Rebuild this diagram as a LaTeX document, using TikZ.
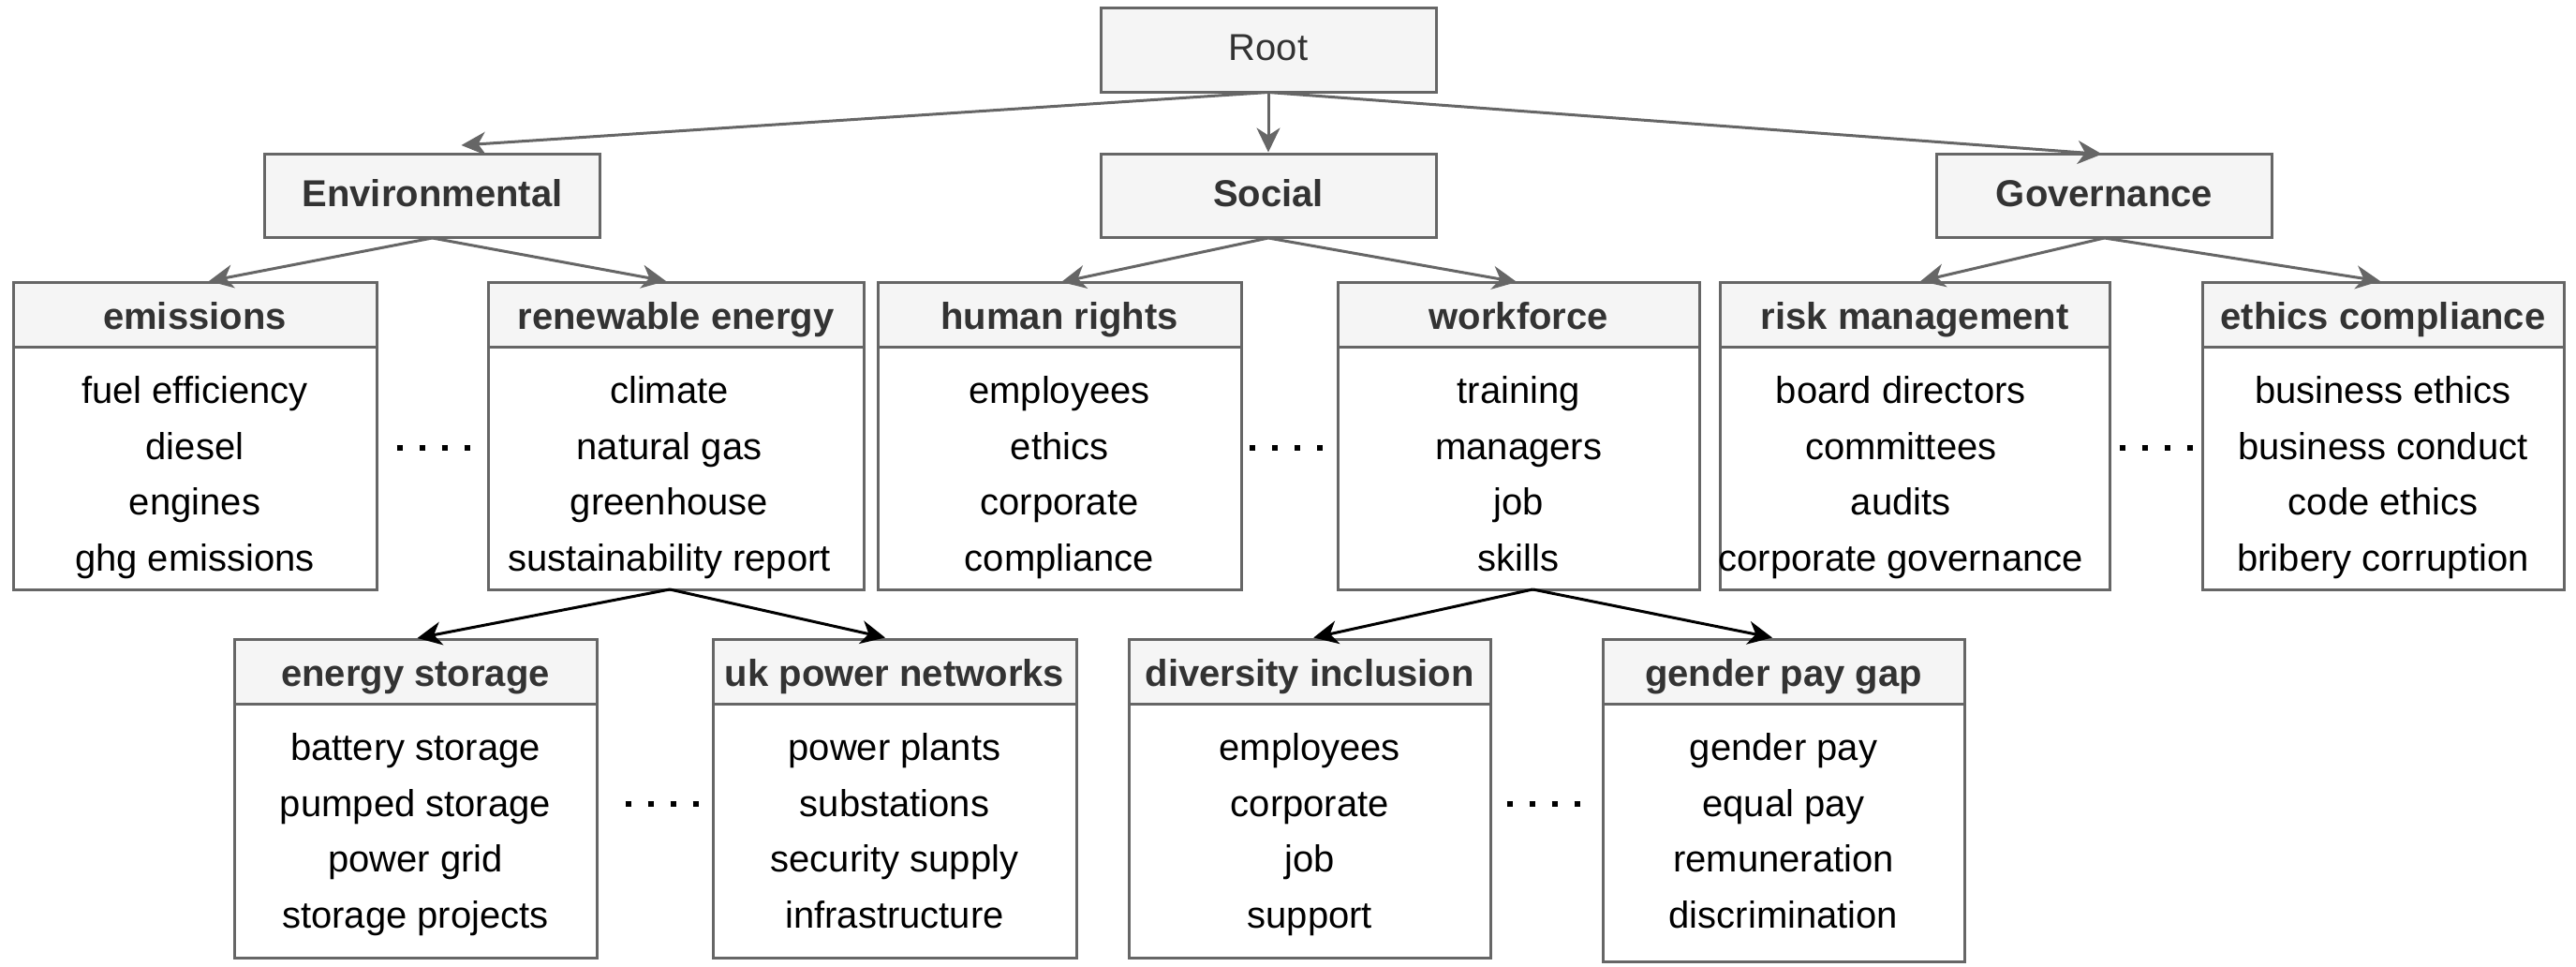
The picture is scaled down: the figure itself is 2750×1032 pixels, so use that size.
\documentclass[tikz,border=0pt]{standalone}
\usepackage{fontspec}
\setmainfont{Liberation Sans}
\usetikzlibrary{arrows.meta,calc}
\definecolor{boxline}{HTML}{666666}
\definecolor{boxfill}{HTML}{F5F5F5}
\definecolor{hdrtext}{HTML}{333333}
\tikzset{
  boxbase/.style={draw=boxline, line width=3pt, outer sep=0pt, inner sep=0pt, rectangle, anchor=north west},
  catnode/.style={boxbase, fill=boxfill, text=hdrtext, font=\fontsize{40}{48}\selectfont\bfseries,
    text height=29pt, text depth=7pt, minimum width=358pt, minimum height=89.5pt},
  rootnode/.style={catnode, font=\fontsize{40}{48}\selectfont},
  hdr/.style={boxbase, fill=boxfill, text=hdrtext, font=\fontsize{40}{48}\selectfont\bfseries,
    text height=32pt, text depth=0pt},
  bdy/.style={boxbase, fill=white},
  item/.style={font=\fontsize{40}{48}\selectfont, text=black, inner sep=0pt, anchor=base},
  gedge/.style={draw=boxline, line width=3pt, -{Stealth[length=26pt,width=25pt,inset=8pt]}},
  kedge/.style={draw=black, line width=3pt, -{Stealth[length=26pt,width=25pt,inset=8pt]}},
  dotrow/.style={draw=black, line width=6pt, dash pattern=on 6pt off 18pt},
}
% #1 name, #2 left, #3 right, #4 top, #5 header bottom, #6 bottom, #7 title, #8 items, #9 item x offset
\newcommand\catbox[9]{%
  \node[hdr, minimum width={#3-#2}, minimum height={#5-#4}] (#1) at (#2,#4) {#7};
  \node[bdy, minimum width={#3-#2}, minimum height={#6-#5}] (#1-body) at (#2,#5) {};
  \foreach \t [count=\k] in {#8}
    \node[item] (#1-\k) at ({(#2+#3)/2+#9},{#5+60.8+59.5*(\k-1)}) {\t};
}
\newcommand\dotgroup[2]{\draw[dotrow] (#1-39,#2) -- (#1+39,#2);}
\begin{document}
\begin{tikzpicture}[x=1pt,y=-1pt]
\useasboundingbox (0,0) rectangle (2750,1032);

\node[rootnode] (root) at (1175,9) {Root};
\node[catnode] (env) at (282.5,164.5) {Environmental};
\node[catnode] (social) at (1175,164.5) {Social};
\node[catnode] (gov) at (2067.5,164.5) {Governance};

\catbox{emis}{14}{402}{301.5}{370}{629}{emissions}{fuel efficiency,diesel,engines,ghg emissions}{0}
\catbox{renew}{521}{922}{301.5}{370}{629}{renewable energy}{climate,natural gas,greenhouse,sustainability report}{-7}
\catbox{human}{937}{1325}{301.5}{370}{629}{human rights}{employees,ethics,corporate,compliance}{0}
\catbox{work}{1428}{1814.5}{301.5}{370}{629}{workforce}{training,managers,job,skills}{0}
\catbox{risk}{1836}{2252.5}{301.5}{370}{629}{risk management}{board directors,committees,audits,corporate governance}{-15}
\catbox{ethics}{2351}{2737}{301.5}{370}{629}{ethics compliance}{business ethics,business conduct,code ethics,bribery corruption}{0}
\catbox{storage}{250}{637}{682.5}{751}{1022.5}{energy storage}{battery storage,pumped storage,power grid,storage projects}{0}
\catbox{ukpn}{761}{1149}{682.5}{751}{1022.5}{uk power networks}{power plants,substations,security supply,infrastructure}{0}
\catbox{divers}{1205.5}{1591}{682.5}{751}{1022.5}{diversity inclusion}{employees,corporate,job,support}{0}
\catbox{gender}{1711}{2097}{682.5}{751}{1026}{gender pay gap}{gender pay,equal pay,remuneration,discrimination}{0}

\draw[gedge] (root.south) -- ($(env.north)+(31,-9.5)$);
\draw[gedge] (root.south) -- ($(social.north)+(0,-2)$);
\draw[gedge] (root.south) -- ($(gov.north)+(-2.5,0)$);
\draw[gedge] (env.south) -- ($(emis.north)+(15,-1.5)$);
\draw[gedge] (env.south) -- ($(renew.north)+(-10.5,-1.5)$);
\draw[gedge] (social.south) -- ($(human.north)+(2,-0.5)$);
\draw[gedge] (social.south) -- ($(work.north)+(-2,-0.5)$);
\draw[gedge] (gov.south) -- ($(risk.north)+(6,-1.5)$);
\draw[gedge] (gov.south) -- ($(ethics.north)+(-3,-1.5)$);
\draw[kedge] ($(renew-body.south)+(-6.5,0)$) -- ($(storage.north)+(2,-1.5)$);
\draw[kedge] ($(renew-body.south)+(-6.5,0)$) -- ($(ukpn.north)+(-10,-2)$);
\draw[kedge] ($(work-body.south)+(15,0)$) -- ($(divers.north)+(4,-2)$);
\draw[kedge] ($(work-body.south)+(15,0)$) -- ($(gender.north)+(-12,-2)$);

\dotgroup{462.5}{477.5}
\dotgroup{1373}{477.5}
\dotgroup{2301.5}{477.5}
\dotgroup{706.5}{858}
\dotgroup{1647.5}{858}
\end{tikzpicture}
\end{document}
